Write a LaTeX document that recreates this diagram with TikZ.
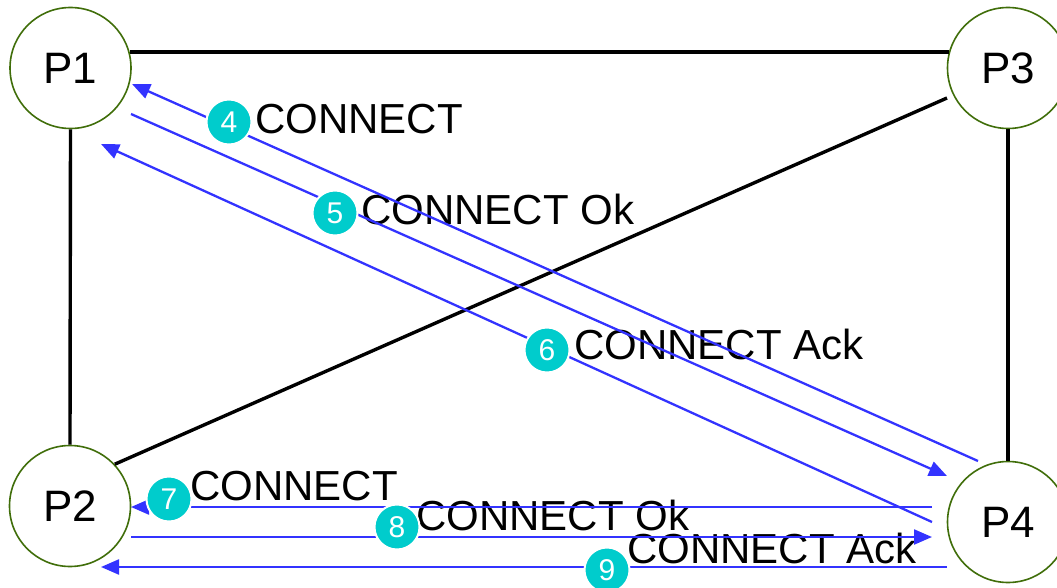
\documentclass[tikz,border=0pt]{standalone}
\usepackage{fontspec}
\setmainfont{Liberation Sans}
\usetikzlibrary{arrows.meta}
\definecolor{pgreen}{RGB}{64,110,10}
\definecolor{mblue}{RGB}{51,51,255}
\definecolor{bteal}{RGB}{0,204,204}
\begin{document}
\begin{tikzpicture}[x=1pt,y=-1pt,
  proc/.style={circle,draw=pgreen,line width=1.6pt,fill=white,minimum size=121pt,inner sep=0pt,font=\fontsize{44}{50}\selectfont},
  link/.style={line width=3.4pt,draw=black},
  msg/.style={line width=2.3pt,draw=mblue,-{Triangle[length=18pt,width=15pt,fill=mblue]}},
  badge/.style={circle,fill=bteal,draw=white,line width=2pt,minimum size=45pt,inner sep=0pt,text=white,font=\fontsize{30}{32}\selectfont},
  lbl/.style={anchor=base west,inner sep=0pt,font=\fontsize{42}{50}\selectfont}]
\useasboundingbox (0,0) rectangle (1057,588);
\clip (0,0) rectangle (1057,588);
% processes
\node[proc] (P1) at (70.5,68) {P1};
\node[proc] (P2) at (70,506) {P2};
\node[proc] (P3) at (1008,68) {P3};
\node[proc] (P4) at (1008,522) {P4};
% black links
\draw[link] (P1.15) -- (P3.165);
\draw[link] (P1.south) -- (P2.north);
\draw[link] (P3.south) -- (P4.north);
\draw[link] (P2.43) -- ([shift={(-61,30)}]P3.center);
% labels
\node[lbl] (L4) at (255,134) {CONNECT};
\node[lbl] (L5) at (361,225) {CONNECT Ok};
\node[lbl] (L6) at (574,359) {CONNECT Ack};
\node[lbl] (L7) at (190,500) {CONNECT};
\node[lbl] (L8) at (416,530) {CONNECT Ok};
\node[lbl] (L9) at (627,563) {CONNECT Ack};
% messages
\draw[msg] ([shift={(-30,-61)}]P4.center) -- ([shift={(61.5,16)}]P1.center);
\draw[msg] ([shift={(60.5,46)}]P1.center) -- ([shift={(-61,-46)}]P4.center);
\draw[msg] ([shift={(-76,0)}]P4.center) -- ([shift={(30.5,76)}]P1.center);
\draw[msg] ([shift={(-76,-15)}]P4.center) -- ([shift={(61,1)}]P2.center);
\draw[msg] ([shift={(61,31)}]P2.center) -- ([shift={(-76,15)}]P4.center);
\draw[msg] ([shift={(-61,45)}]P4.center) -- ([shift={(31,61)}]P2.center);
% badges
\node[badge] (B4) at (229,122) {4};
\node[badge] (B5) at (335,213) {5};
\node[badge] (B6) at (547,350) {6};
\node[badge] (B7) at (169,499) {7};
\node[badge] (B8) at (397,527) {8};
\node[badge] (B9) at (607,570) {9};
\end{tikzpicture}
\end{document}
